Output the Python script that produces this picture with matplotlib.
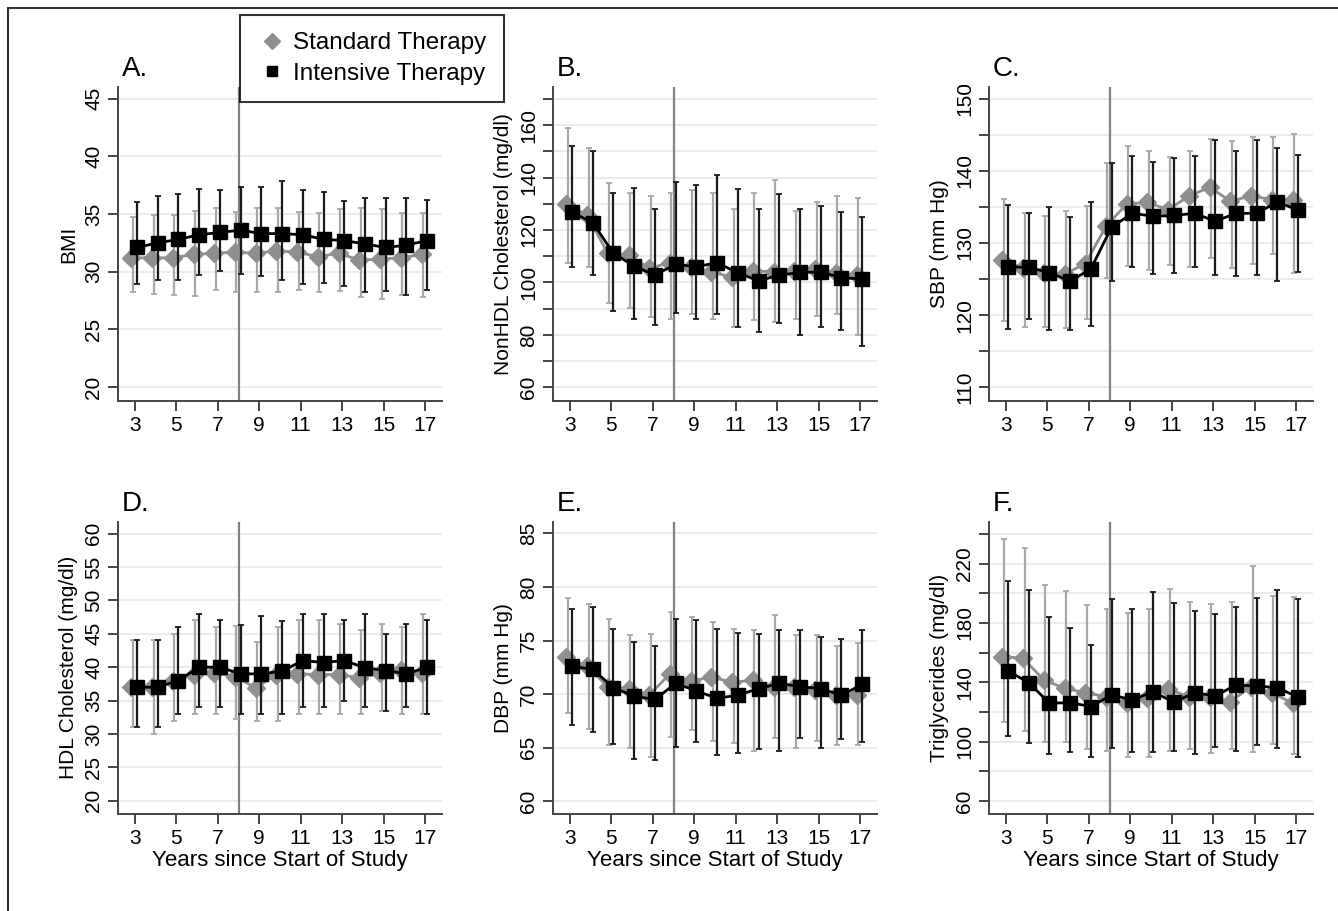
import numpy as np
import matplotlib
matplotlib.use("Agg")
import matplotlib.pyplot as plt
from matplotlib.lines import Line2D

plt.rcParams['font.family'] = ['Liberation Sans', 'DejaVu Sans']

years = np.arange(3, 18)

# A. BMI
bmi_std = [31.2, 31.2, 31.2, 31.5, 31.6, 31.7, 31.6, 31.8, 31.7, 31.3, 31.6, 31.0, 31.1, 31.2, 31.5]
bmi_std_lo = [28.2, 28.1, 28.0, 27.9, 28.4, 28.2, 28.2, 28.2, 28.4, 28.2, 28.3, 27.8, 27.6, 28.0, 27.8]
bmi_std_hi = [34.7, 34.9, 34.9, 35.3, 35.5, 35.2, 35.5, 35.5, 35.2, 35.1, 35.4, 35.5, 35.4, 35.1, 35.1]
bmi_int = [32.1, 32.5, 32.8, 33.2, 33.4, 33.6, 33.3, 33.3, 33.2, 32.8, 32.7, 32.4, 32.1, 32.3, 32.7]
bmi_int_lo = [28.9, 29.3, 29.3, 29.7, 30.1, 29.8, 29.6, 29.3, 28.9, 29.0, 28.8, 28.2, 28.3, 28.0, 28.4]
bmi_int_hi = [36.0, 36.6, 36.7, 37.2, 37.1, 37.3, 37.3, 37.9, 37.1, 36.9, 36.1, 36.4, 36.4, 36.4, 36.2]

# B. NonHDL cholesterol
nhdl_std = [129.9, 125.7, 111.1, 110.4, 105.4, 107.5, 105.7, 104.1, 101.9, 104.3, 104.1, 104.5, 105.0, 103.5, 103.0]
nhdl_std_lo = [107.5, 106.0, 92.0, 90.1, 86.8, 85.9, 87.8, 85.9, 83.0, 85.5, 84.8, 85.9, 87.3, 87.8, 79.8]
nhdl_std_hi = [159.0, 151.1, 137.9, 134.0, 133.1, 134.0, 135.2, 134.0, 128.0, 134.0, 139.0, 127.3, 130.5, 133.1, 132.1]
nhdl_int = [126.7, 122.8, 111.1, 106.2, 102.8, 106.9, 106.0, 107.5, 103.7, 100.6, 102.8, 103.8, 104.0, 101.8, 101.3]
nhdl_int_lo = [105.9, 102.9, 89.0, 85.9, 83.9, 88.4, 85.9, 87.8, 83.0, 81.0, 84.4, 79.8, 83.1, 82.0, 75.9]
nhdl_int_hi = [152.0, 150.1, 134.0, 136.0, 128.0, 138.4, 137.0, 140.9, 135.6, 128.0, 133.7, 127.9, 129.0, 127.0, 125.0]

# C. SBP
sbp_std = [127.6, 126.5, 125.8, 125.7, 127.1, 132.3, 135.4, 135.6, 134.6, 136.5, 137.7, 135.8, 136.5, 136.0, 136.0]
sbp_std_lo = [119.2, 118.3, 118.4, 118.2, 119.5, 125.1, 126.8, 126.2, 127.0, 126.6, 127.9, 126.5, 127.1, 128.5, 125.8]
sbp_std_hi = [136.1, 134.2, 133.7, 134.4, 135.1, 141.1, 143.4, 142.7, 141.9, 142.7, 144.4, 144.1, 144.7, 144.7, 145.1]
sbp_int = [126.7, 126.6, 125.9, 124.7, 126.4, 132.2, 134.1, 133.7, 133.8, 134.1, 133.0, 134.1, 134.1, 135.7, 134.5]
sbp_int_lo = [118.1, 119.4, 118.0, 118.0, 118.5, 124.7, 126.6, 125.7, 125.9, 126.6, 125.5, 125.4, 125.5, 124.7, 126.0]
sbp_int_hi = [135.3, 134.2, 135.0, 133.6, 135.6, 141.1, 142.0, 141.2, 141.8, 142.0, 144.3, 142.8, 144.2, 143.1, 142.2]

# D. HDL cholesterol
hdl_std = [37.0, 37.0, 37.9, 38.9, 39.1, 38.6, 36.9, 38.9, 39.0, 38.9, 38.9, 38.4, 39.1, 39.6, 39.1]
hdl_std_lo = [31.0, 30.0, 32.0, 33.0, 33.0, 32.2, 32.0, 32.0, 33.0, 33.0, 33.0, 33.0, 33.5, 33.0, 33.0]
hdl_std_hi = [44.0, 44.0, 45.0, 47.0, 46.0, 46.2, 43.7, 46.0, 47.0, 47.0, 46.5, 45.5, 46.5, 46.0, 48.0]
hdl_int = [37.0, 37.0, 38.0, 40.0, 40.0, 39.0, 39.0, 39.4, 41.0, 40.7, 41.0, 39.9, 39.5, 39.0, 40.0]
hdl_int_lo = [31.0, 31.0, 33.0, 34.0, 34.0, 33.0, 33.0, 33.0, 34.0, 34.0, 35.0, 34.0, 33.5, 34.0, 33.0]
hdl_int_hi = [44.0, 44.0, 46.0, 48.0, 47.0, 46.3, 47.6, 46.9, 47.9, 48.0, 47.0, 48.0, 45.0, 46.5, 47.0]

# E. DBP
dbp_std = [73.5, 72.6, 70.7, 70.5, 69.9, 71.9, 71.2, 71.6, 71.1, 71.3, 70.7, 70.7, 70.4, 69.9, 69.9]
dbp_std_lo = [68.2, 66.7, 65.2, 65.0, 64.1, 66.0, 66.6, 65.6, 65.4, 64.7, 65.9, 65.0, 65.6, 65.2, 65.2]
dbp_std_hi = [79.0, 78.4, 77.0, 75.5, 75.6, 77.7, 77.2, 76.7, 76.1, 76.0, 77.4, 75.5, 75.5, 74.5, 74.8]
dbp_int = [72.6, 72.3, 70.6, 69.8, 69.5, 71.0, 70.3, 69.6, 69.9, 70.5, 71.0, 70.7, 70.5, 69.9, 70.9]
dbp_int_lo = [67.1, 66.5, 65.3, 63.9, 63.8, 65.1, 65.5, 64.3, 64.5, 64.9, 64.7, 65.9, 65.0, 65.8, 65.5]
dbp_int_hi = [77.9, 78.1, 76.1, 74.9, 74.5, 77.0, 76.9, 76.1, 75.7, 75.6, 76.0, 76.0, 75.3, 75.1, 76.0]

# F. Triglycerides
tg_std = [157.3, 156.2, 141.6, 136.0, 133.0, 130.3, 126.3, 129.2, 135.3, 130.3, 130.3, 127.0, 137.1, 133.0, 125.9]
tg_std_lo = [113.0, 107.2, 100.0, 100.0, 95.1, 93.9, 89.5, 89.5, 93.9, 95.1, 92.1, 95.1, 93.3, 98.4, 91.7]
tg_std_hi = [236.4, 230.3, 205.4, 201.4, 192.1, 189.4, 187.0, 189.2, 203.1, 194.4, 193.0, 194.4, 218.4, 198.2, 197.3]
tg_int = [147.7, 139.8, 125.9, 126.3, 123.6, 131.5, 128.1, 133.7, 126.5, 133.0, 130.8, 138.2, 137.5, 136.4, 129.9]
tg_int_lo = [103.8, 98.9, 91.7, 92.8, 89.9, 95.5, 93.3, 92.8, 93.9, 91.5, 96.6, 93.9, 97.8, 95.5, 89.9]
tg_int_hi = [208.3, 202.3, 184.3, 176.4, 165.2, 196.0, 189.4, 201.1, 193.3, 187.9, 186.1, 190.8, 197.1, 202.3, 196.0]

panel_letters = ["A.", "B.", "C.", "D.", "E.", "F."]
ylabels = ["BMI", "NonHDL Cholesterol (mg/dl)", "SBP (mm Hg)",
           "HDL Cholesterol (mg/dl)", "DBP (mm Hg)", "Triglycerides (mg/dl)"]
xlabel = "Years since Start of Study"
legend_labels = ["Standard Therapy", "Intensive Therapy"]

panels = [
    (bmi_std, bmi_std_lo, bmi_std_hi, bmi_int, bmi_int_lo, bmi_int_hi),
    (nhdl_std, nhdl_std_lo, nhdl_std_hi, nhdl_int, nhdl_int_lo, nhdl_int_hi),
    (sbp_std, sbp_std_lo, sbp_std_hi, sbp_int, sbp_int_lo, sbp_int_hi),
    (hdl_std, hdl_std_lo, hdl_std_hi, hdl_int, hdl_int_lo, hdl_int_hi),
    (dbp_std, dbp_std_lo, dbp_std_hi, dbp_int, dbp_int_lo, dbp_int_hi),
    (tg_std, tg_std_lo, tg_std_hi, tg_int, tg_int_lo, tg_int_hi),
]

# y limits, tick positions, labelled ticks
ylims = [(18.8, 46.0), (54.8, 174.5), (108.1, 151.6), (18.0, 61.8), (58.8, 86.1), (51.2, 248.3)]
yticks = [np.arange(20, 46, 5), np.arange(60, 171, 10), np.arange(110, 151, 5),
          np.arange(20, 61, 5), np.arange(60, 86, 5), np.arange(60, 241, 20)]
ylabeled = [np.arange(20, 46, 5), np.arange(60, 161, 20), np.arange(110, 151, 10),
            np.arange(20, 61, 5), np.arange(60, 86, 5), np.arange(60, 221, 40)]

W, H = 1338, 911
fig = plt.figure(figsize=(W / 100, H / 100), dpi=100)

col_left = [118.3, 553.3, 989.3]
ax_w = 323.4
row_top = [87, 521.7]
row_bot = [401, 814]

std_grey = "#8f8f8f"
std_bar = "#a8a8a8"
int_bar = "#1a1a1a"

for i, (s, slo, shi, it, ilo, ihi) in enumerate(panels):
    r, c = divmod(i, 3)
    ax = fig.add_axes([col_left[c] / W, (H - row_bot[r]) / H, ax_w / W,
                       (row_bot[r] - row_top[r]) / H])
    s, slo, shi = np.array(s), np.array(slo), np.array(shi)
    it, ilo, ihi = np.array(it), np.array(ilo), np.array(ihi)

    ax.errorbar(years - 0.1, s, yerr=[s - slo, shi - s], fmt='none',
                ecolor=std_bar, elinewidth=1.6, capsize=2.5, capthick=1.3, zorder=2)
    ax.plot(years - 0.17, s, color=std_grey, lw=2, marker='D', ms=9.5,
            mec=std_grey, mfc=std_grey, zorder=3)
    ax.errorbar(years + 0.1, it, yerr=[it - ilo, ihi - it], fmt='none',
                ecolor=int_bar, elinewidth=1.6, capsize=2.5, capthick=1.3, zorder=4)
    ax.plot(years + 0.1, it, color='black', lw=2, marker='s', ms=10,
            mec='black', mfc='black', zorder=5)

    ax.axvline(8, color="#808080", lw=1.6, zorder=1)

    ax.set_xlim(2.2, 17.8)
    ax.set_ylim(*ylims[i])
    ax.set_xticks(np.arange(3, 18, 2))
    ax.set_yticks(yticks[i])
    ax.set_yticklabels([str(v) if v in ylabeled[i] else "" for v in yticks[i]],
                       rotation=90, va='center')
    for v in yticks[i]:
        ax.axhline(v, color="#ececec", lw=1.5, zorder=0)

    for side in ['top', 'right']:
        ax.spines[side].set_visible(False)
    for side in ['left', 'bottom']:
        ax.spines[side].set_color("#444444")
        ax.spines[side].set_linewidth(1.4)
    ax.tick_params(axis='both', direction='out', length=7, width=1.4,
                   color="#444444", labelsize=15, pad=4)

    ax.set_ylabel(ylabels[i], fontsize=15, labelpad=4)
    if r == 1:
        ax.set_xlabel(xlabel, fontsize=16, labelpad=1)
    ax.text(0.01, 1.015, panel_letters[i], transform=ax.transAxes,
            ha='left', va='bottom', fontsize=20)

handles = [
    Line2D([], [], marker='D', color=std_grey, linestyle='none', markersize=8),
    Line2D([], [], marker='s', color='black', linestyle='none', markersize=7),
]
leg = fig.legend(handles, legend_labels, loc='upper left',
                 bbox_to_anchor=(240 / W, 1 - 15 / H), frameon=True, fancybox=False,
                 edgecolor='black', fontsize=17.5, handlelength=1.2, handletextpad=0.3,
                 borderpad=0.7, labelspacing=0.35, borderaxespad=0)
leg.get_frame().set_linewidth(1.5)
leg.set_zorder(10)

# outer frame
fig.add_artist(Line2D([8 / W, 1.0], [1 - 8 / H, 1 - 8 / H], color="#333333", lw=1.5))
fig.add_artist(Line2D([8 / W, 8 / W], [0, 1 - 8 / H], color="#333333", lw=1.5))

fig.savefig("out.png", dpi=100)
